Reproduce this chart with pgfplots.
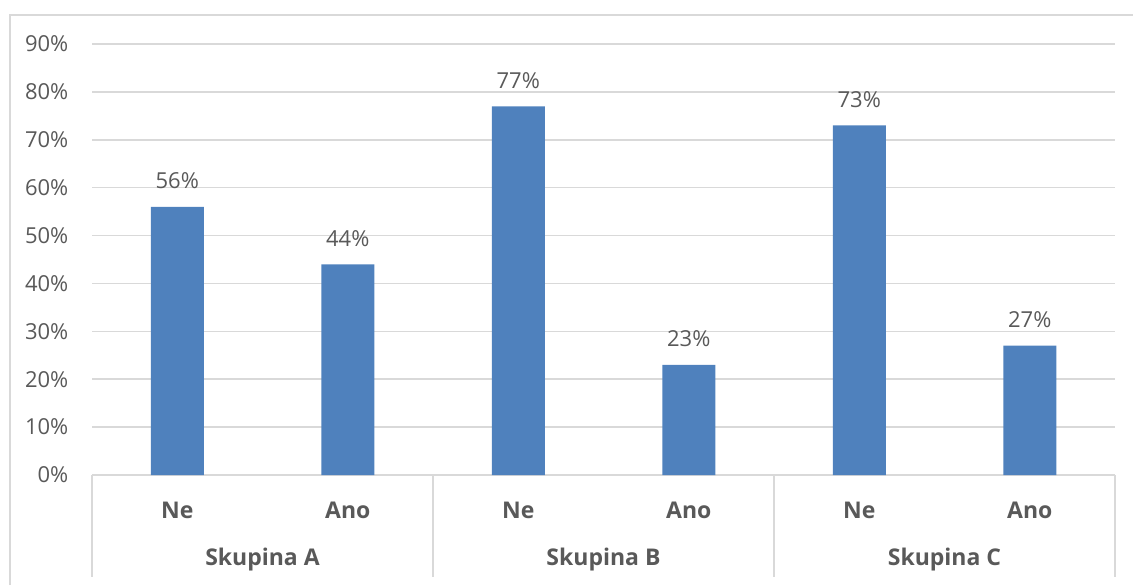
\documentclass[border=0pt]{standalone}
\usepackage{fontspec}
\setmainfont{Open Sans}
\usepackage{pgfplots}
\pgfplotsset{compat=1.18}
\definecolor{barblue}{HTML}{4F81BD}
\definecolor{txtgray}{HTML}{595959}
\definecolor{gridgray}{HTML}{D9D9D9}
\begin{document}
\begin{tikzpicture}
\path[use as bounding box] (0pt,0pt) rectangle (566.5pt,-292.5pt);
\draw[gridgray, line width=0.75pt] (5pt,-292.5pt) -- (5pt,-7.5pt) -- (566.5pt,-7.5pt);
\begin{axis}[
  at={(46pt,-237.5pt)}, anchor=south west,
  scale only axis, width=511.5pt, height=215.5pt,
  xmin=-0.5, xmax=5.5, ymin=0, ymax=90,
  ybar, bar width=26.5pt,
  axis x line*=bottom, axis y line*=left,
  x axis line style={gridgray, line width=0.75pt},
  y axis line style={draw=none},
  xtick=\empty,
  ytick={0,10,...,90},
  ymajorgrids, grid style={gridgray, line width=0.75pt},
  major tick length=0pt,
  yticklabel={\pgfmathprintnumber{\tick}\%},
  /pgf/number format/assume math mode=true,
  yticklabel style={font=\fontsize{11}{13}\selectfont, color=txtgray, xshift=-8.3pt},
  clip=false,
  nodes near coords={\pgfmathprintnumber{\pgfplotspointmeta}\%},
  nodes near coords style={font=\fontsize{11}{13}\selectfont, color=txtgray, anchor=center, yshift=13pt},
]
\addplot[fill=barblue, draw=none] coordinates {(0,56) (1,44) (2,77) (3,23) (4,73) (5,27)};
\foreach \xx in {-0.5,1.5,3.5,5.5} {
  \edef\tmp{\noexpand\draw[gridgray, line width=0.75pt] (axis cs:\xx,0) -- ++(0pt,-51pt);}
  \tmp
}
\foreach \xx/\lab in {0/Ne,1/Ano,2/Ne,3/Ano,4/Ne,5/Ano} {
  \edef\tmp{\noexpand\node[font=\noexpand\fontsize{11.5}{13}\noexpand\selectfont\noexpand\bfseries, text=txtgray] at (axis cs:\xx,0) [yshift=-17.5pt] {\lab};}
  \tmp
}
\foreach \xx/\lab in {0.5/Skupina A,2.5/Skupina B,4.5/Skupina C} {
  \edef\tmp{\noexpand\node[font=\noexpand\fontsize{11.5}{13}\noexpand\selectfont\noexpand\bfseries, text=txtgray] at (axis cs:\xx,0) [yshift=-42.5pt] {\lab};}
  \tmp
}
\end{axis}
\end{tikzpicture}
\end{document}
